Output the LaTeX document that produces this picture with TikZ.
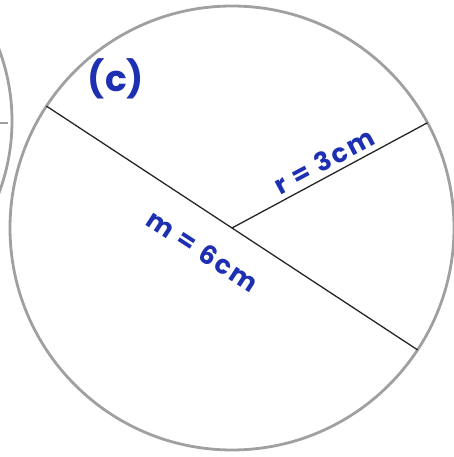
\documentclass[tikz,border=0pt]{standalone}
\usepackage{fontspec}
\setmainfont{Poppins}
\usetikzlibrary{calc}
\definecolor{pen}{RGB}{30,48,178}
\definecolor{pencil}{RGB}{160,160,160}
\begin{document}
\begin{tikzpicture}[x=1pt,y=1pt,
  circ/.style={draw=pencil,line width=2.8pt},
  seg/.style={draw=black!85,line width=1.3pt},
  hand/.style={text=pen,font=\fontsize{26}{26}\selectfont\bfseries\addfontfeature{LetterSpace=10},inner sep=0pt}]
\useasboundingbox (0,0) rectangle (453,457);
% neighbouring circle at the left edge
\begin{scope}
\clip (0,0) rectangle (453,457);
\coordinate (L) at (-192,336);
\draw[circ] (L) circle (204);
\coordinate (T1) at (0,334);
\coordinate (T2) at (8,334);
\draw[draw=pencil,line width=1.2pt] (T1) -- (T2);
\end{scope}
% main circle
\coordinate (O) at (232,229);
\draw[circ] (O) circle (222);
\coordinate (A) at ($(O)+(146.7:222)$);
\coordinate (B) at ($(O)+(-33.3:222)$);
\coordinate (R) at ($(O)+(28.3:222)$);
\draw[seg] (A) -- (B);
\draw[seg] (O) -- (R);
% labels
\node[hand,font=\fontsize{36}{36}\selectfont\bfseries] (lc) at (116,378) {(c)};
\node[hand,rotate=28] (lr) at (324,296) {r = 3cm};
\node[hand,rotate=-33] (lm) at (203,206) {m = 6cm};
\end{tikzpicture}
\end{document}
